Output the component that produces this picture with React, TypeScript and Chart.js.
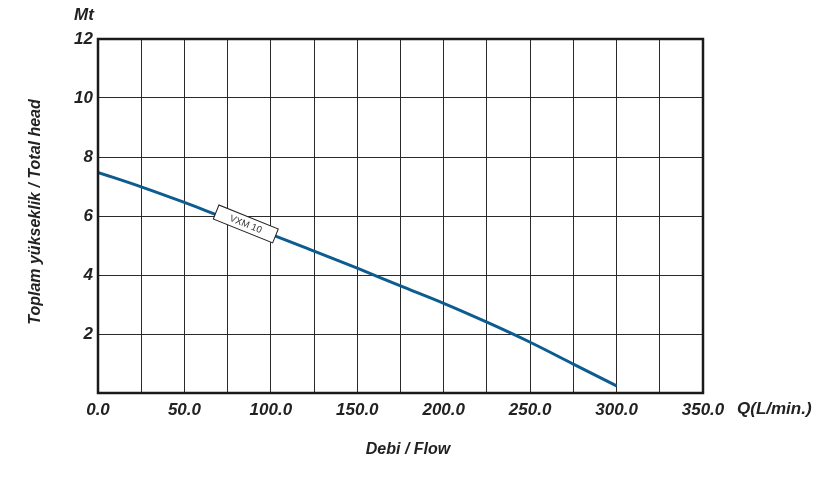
import React, { useEffect, useRef } from "react";
import { Chart, registerables } from "chart.js";

Chart.register(...registerables);

const flowValues = [0, 25, 50, 75, 100, 125, 150, 175, 200, 225, 250, 275, 300];
const headValues = [7.48, 6.99, 6.46, 5.9, 5.38, 4.81, 4.23, 3.63, 3.04, 2.4, 1.72, 0.98, 0.24];
const curveLabel = "VXM 10";
const curveLabelAt = [85.5, 5.73];
const yAxisTitle = "Toplam yükseklik / Total head";
const xAxisTitle = "Debi / Flow";
const yUnit = "Mt";
const xUnit = "Q(L/min.)";

const FONT = "'Liberation Sans', Arial, sans-serif";

const decorPlugin = {
  id: "decor",
  afterDatasetsDraw(chart: any) {
    const { ctx, scales } = chart;
    const x = scales.x;
    const y = scales.y;
    const px = x.getPixelForValue(curveLabelAt[0]);
    const py = y.getPixelForValue(curveLabelAt[1]);
    ctx.save();
    ctx.translate(px, py);
    ctx.rotate((22 * Math.PI) / 180);
    ctx.fillStyle = "#ffffff";
    ctx.fillRect(-32, -7.5, 64, 15);
    ctx.strokeStyle = "#222";
    ctx.lineWidth = 1;
    ctx.strokeRect(-32, -7.5, 64, 15);
    ctx.fillStyle = "#333";
    ctx.font = `9.5px ${FONT}`;
    ctx.textAlign = "center";
    ctx.textBaseline = "middle";
    ctx.fillText(curveLabel, 0, 0.5);
    ctx.restore();
  },
  afterDraw(chart: any) {
    const { ctx, chartArea } = chart;
    ctx.save();
    ctx.strokeStyle = "#1a1a1a";
    ctx.lineWidth = 2.5;
    ctx.strokeRect(chartArea.left, chartArea.top, chartArea.right - chartArea.left, chartArea.bottom - chartArea.top);
    ctx.fillStyle = "#222";
    ctx.font = `italic bold 17px ${FONT}`;
    ctx.textBaseline = "middle";
    ctx.textAlign = "center";
    ctx.fillText(yUnit, 84, 15);
    ctx.textAlign = "left";
    ctx.fillText(xUnit, 737, 409);
    ctx.font = `italic bold 16px ${FONT}`;
    ctx.textAlign = "center";
    ctx.fillText(xAxisTitle, 408, 450);
    ctx.translate(36, 212);
    ctx.rotate(-Math.PI / 2);
    ctx.fillText(yAxisTitle, 0, 0);
    ctx.restore();
  },
};

export default function App() {
  const canvasRef = useRef<HTMLCanvasElement | null>(null);

  useEffect(() => {
    if (!canvasRef.current) return;
    const chart = new Chart(canvasRef.current, {
      type: "line",
      data: {
        datasets: [
          {
            data: flowValues.map((f, i) => ({ x: f, y: headValues[i] })),
            borderColor: "#0d5c8f",
            borderWidth: 3,
            pointRadius: 0,
            cubicInterpolationMode: "monotone",
            fill: false,
          },
        ],
      },
      options: {
        animation: false,
        responsive: false,
        maintainAspectRatio: false,
        layout: { padding: { left: 0, top: 39, right: 117, bottom: 0 } },
        plugins: { legend: { display: false }, tooltip: { enabled: false } },
        scales: {
          x: {
            type: "linear",
            min: 0,
            max: 350,
            afterFit: (s: any) => {
              s.height = 84;
            },
            border: { display: false },
            grid: { color: "#2a2a2a", lineWidth: 1, drawTicks: false },
            ticks: {
              stepSize: 25,
              autoSkip: false,
              maxRotation: 0,
              padding: 7,
              color: "#222",
              font: { family: FONT, size: 17, style: "italic", weight: "bold" },
              callback: (v: any) => (Number(v) % 50 === 0 ? Number(v).toFixed(1) : ""),
            },
          },
          y: {
            type: "linear",
            min: 0,
            max: 12,
            afterFit: (s: any) => {
              s.width = 98;
            },
            border: { display: false },
            grid: { color: "#2a2a2a", lineWidth: 1, drawTicks: false },
            ticks: {
              stepSize: 2,
              padding: 5,
              color: "#222",
              font: { family: FONT, size: 17, style: "italic", weight: "bold" },
              callback: (v: any) => (Number(v) === 0 ? "" : String(v)),
            },
          },
        },
      },
      plugins: [decorPlugin],
    });
    return () => chart.destroy();
  }, []);

  return (
    <div style={{ position: "fixed", left: 0, top: 0, width: 820, height: 477, background: "#fff" }}>
      <canvas ref={canvasRef} width={820} height={477} style={{ width: 820, height: 477 }} />
    </div>
  );
}
